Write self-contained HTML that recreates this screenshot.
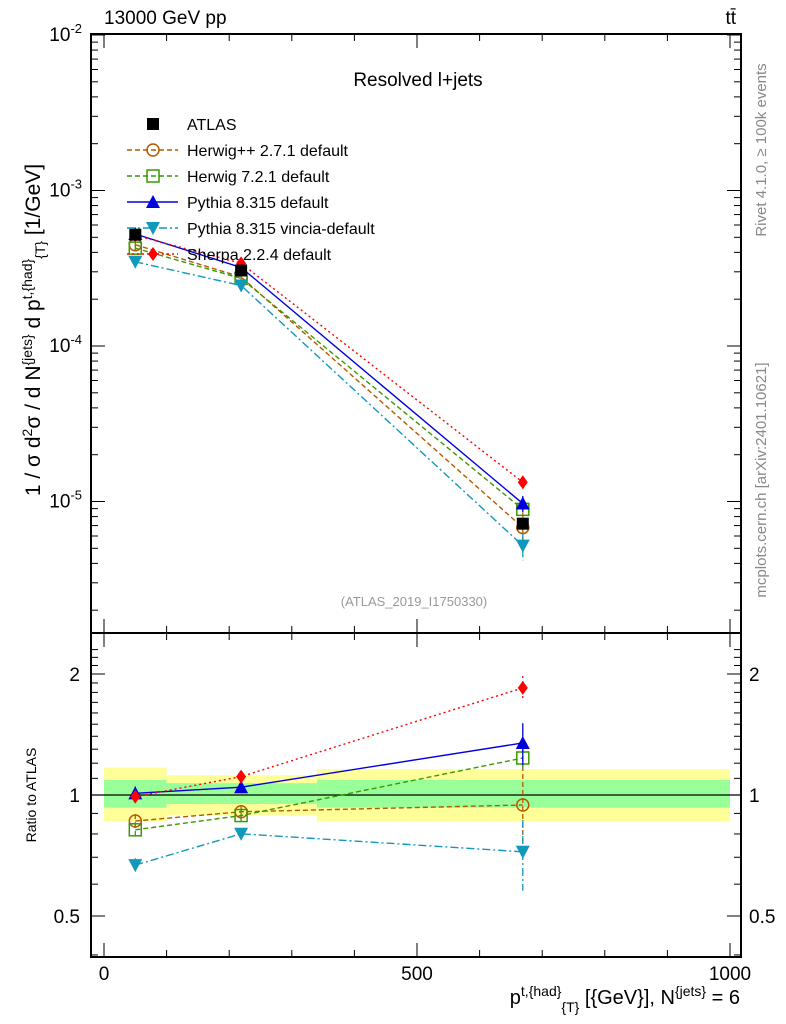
<!DOCTYPE html>
<html><head><meta charset="utf-8"><style>
body{margin:0;background:#fff}
svg{display:block;font-family:"Liberation Sans",sans-serif}
</style></head><body>
<svg id="c" width="786" height="1024" viewBox="0 0 786 1024" xmlns="http://www.w3.org/2000/svg">
<g id="bands"></g>
<g id="grid"></g>
<g id="series"></g>
<text x="104" y="24" font-size="19">13000 GeV pp</text>
<text x="736" y="24" font-size="19" text-anchor="end">tt̄</text>
<text x="418" y="86" font-size="19" text-anchor="middle">Resolved l+jets</text>
<text x="414" y="606" font-size="13" fill="#999" text-anchor="middle">(ATLAS_2019_I1750330)</text>
<text transform="translate(766,150) rotate(-90)" font-size="15" fill="#888" text-anchor="middle">Rivet 4.1.0, ≥ 100k events</text>
<text transform="translate(766,480) rotate(-90)" font-size="15" fill="#888" text-anchor="middle">mcplots.cern.ch [arXiv:2401.10621]</text>
<text transform="translate(40,330) rotate(-90)" font-size="21" text-anchor="middle">1 / σ d<tspan dy="-8" font-size="14">2</tspan><tspan dy="8">σ / d N</tspan><tspan dy="-8" font-size="14">{jets}</tspan><tspan dy="8"> d p</tspan><tspan dy="-8" font-size="14">t,{had}</tspan><tspan dy="13" font-size="14">{T}</tspan><tspan dy="-5"> [1/GeV]</tspan></text>
<text transform="translate(36,795) rotate(-90)" font-size="14" text-anchor="middle">Ratio to ATLAS</text>
<text x="740" y="1004" font-size="20" text-anchor="end">p<tspan dy="-8" font-size="14">t,{had}</tspan><tspan dy="16" font-size="14">{T}</tspan><tspan dy="-8"> [{GeV}], N</tspan><tspan dy="-8" font-size="14">{jets}</tspan><tspan dy="8"> = 6</tspan></text>
<g id="legend"></g>
</svg>
<script>
const xCenters=[50,219,669];
const atlas=[5.2e-4,3.06e-4,7.2e-6];
const atlasErr=[0.03,0.04,0.07];
const herwigpp=[4.48e-4,2.78e-4,6.8e-6];
const herwig7=[4.26e-4,2.72e-4,8.9e-6];
const pythia=[5.25e-4,3.2e-4,9.7e-6];
const vincia=[3.48e-4,2.45e-4,5.2e-6];
const sherpa=[5.15e-4,3.4e-4,1.33e-5];
const herwigppErr=[0.04,0.03,0.25];
const herwig7Err=[0.04,0.03,0.06];
const pythiaErr=[0.04,0.02,0.12];
const vinciaErr=[0.04,0.03,0.2];
const sherpaErr=[0.02,0.02,0.07];
const binEdges=[0,100,340,1000];
const band1Lo=[0.86,0.89,0.86];const band1Hi=[1.17,1.12,1.16];
const band2Lo=[0.93,0.95,0.93];const band2Hi=[1.09,1.07,1.09];
const xTicks=[0,500,1000];
const yTicks=[-2,-3,-4,-5];
const rTicks=[0.5,1,2];
const NS='http://www.w3.org/2000/svg';
const L=91,R=741,T=34,M=633,B=957;
const X=v=>104+v*0.626;
const Y=v=>35+(-2-Math.log10(v))*155.5;
const RY=r=>795-Math.log2(r)*121;
function mk(p,tag,a){const e=document.createElementNS(NS,tag);for(const k in a)e.setAttribute(k,a[k]);p.appendChild(e);return e;}
const bands=document.getElementById('bands'),grid=document.getElementById('grid'),ser=document.getElementById('series'),leg=document.getElementById('legend');
for(let i=0;i<3;i++){
 let r=mk(bands,'rect',{x:X(binEdges[i]),y:RY(band1Hi[i]),width:X(binEdges[i+1])-X(binEdges[i]),height:RY(band1Lo[i])-RY(band1Hi[i]),fill:'#ffff99'});
 
 r=mk(bands,'rect',{x:X(binEdges[i]),y:RY(band2Hi[i]),width:X(binEdges[i+1])-X(binEdges[i]),height:RY(band2Lo[i])-RY(band2Hi[i]),fill:'#99ff99'});
 
}
let fr=mk(grid,'rect',{x:L,y:T,width:R-L,height:B-T,fill:'none',stroke:'#000','stroke-width':2});

mk(grid,'line',{x1:L,x2:R,y1:M,y2:M,stroke:'#000','stroke-width':2});
mk(grid,'line',{x1:L,x2:R,y1:RY(1),y2:RY(1),stroke:'#000','stroke-width':1.3});
for(let v=0;v<=1000;v+=100){const maj=v%500==0;
 for(const [y0,d] of [[T,1],[M,-1],[M,1],[B,-1]]){mk(grid,'line',{x1:X(v),x2:X(v),y1:y0,y2:y0+d*(maj?14:7),stroke:'#000','stroke-width':1});}}
xTicks.forEach(v=>{const t=mk(grid,'text',{x:X(v),y:980,'font-size':19,'text-anchor':'middle'});t.textContent=v;
 });
for(let d=-6;d<=-2;d++){for(let m=1;m<10;m++){const v=m*Math.pow(10,d);const y=Y(v);if(y<T||y>M)continue;const len=m==1?14:7;
 mk(grid,'line',{x1:L,x2:L+len,y1:y,y2:y,stroke:'#000'});mk(grid,'line',{x1:R,x2:R-len,y1:y,y2:y,stroke:'#000'});}}
yTicks.forEach(e=>{const t=mk(grid,'text',{x:82,y:Y(Math.pow(10,e))+6,'font-size':19,'text-anchor':'end'});
 t.innerHTML='10<tspan dy="-8" font-size="13">'+e+'</tspan>';
 });
for(let r=0.4;r<=2.4;r+=0.1){const y=RY(r);if(y<M||y>B)continue;const maj=[0.5,1,2].some(q=>Math.abs(q-r)<1e-6);const len=maj?14:7;
 mk(grid,'line',{x1:L,x2:L+len,y1:y,y2:y,stroke:'#000'});mk(grid,'line',{x1:R,x2:R-len,y1:y,y2:y,stroke:'#000'});}
rTicks.forEach(r=>{for(const [x,a] of [[80,'end'],[749,'start']]){const t=mk(grid,'text',{x:x,y:RY(r)+7,'font-size':19,'text-anchor':a});t.textContent=r;
 }});
function marker(p,type,x,y,col){
 if(type=='sq')return mk(p,'rect',{x:x-6,y:y-6,width:12,height:12,fill:'#000'});
 if(type=='circ')return mk(p,'circle',{cx:x,cy:y,r:6,fill:'none',stroke:col,'stroke-width':1.5});
 if(type=='osq')return mk(p,'rect',{x:x-6,y:y-6,width:12,height:12,fill:'none',stroke:col,'stroke-width':1.5});
 if(type=='tri')return mk(p,'polygon',{points:`${x},${y-7} ${x-7},${y+6} ${x+7},${y+6}`,fill:col});
 if(type=='itri')return mk(p,'polygon',{points:`${x},${y+7} ${x-7},${y-6} ${x+7},${y-6}`,fill:col});
 if(type=='dia')return mk(p,'polygon',{points:`${x},${y-7} ${x-5},${y} ${x},${y+7} ${x+5},${y}`,fill:col});
}
const mcs=[
 {name:'Herwig++ 2.7.1 default',vals:herwigpp,err:herwigppErr,col:'#b35a00',dash:'5,3',m:'circ',id:'herwigpp'},
 {name:'Herwig 7.2.1 default',vals:herwig7,err:herwig7Err,col:'#3a9a00',dash:'5,3',m:'osq',id:'herwig7'},
 {name:'Pythia 8.315 default',vals:pythia,err:pythiaErr,col:'#0000dd',dash:'',m:'tri',id:'pythia'},
 {name:'Pythia 8.315 vincia-default',vals:vincia,err:vinciaErr,col:'#1199bb',dash:'8,3,2,3',m:'itri',id:'vincia'},
 {name:'Sherpa 2.2.4 default',vals:sherpa,err:sherpaErr,col:'#ff0000',dash:'2,3',m:'dia',id:'sherpa'}];
mcs.forEach(s=>{
 const g=mk(ser,'g',{});
 const pm=s.vals.map((v,i)=>X(xCenters[i])+','+Y(v)).join(' ');
 mk(g,'polyline',{points:pm,fill:'none',stroke:s.col,'stroke-width':1.4,'stroke-dasharray':s.dash});
 const pr=s.vals.map((v,i)=>X(xCenters[i])+','+RY(v/atlas[i])).join(' ');
 mk(g,'polyline',{points:pr,fill:'none',stroke:s.col,'stroke-width':1.4,'stroke-dasharray':s.dash});
 s.vals.forEach((v,i)=>{const x=X(xCenters[i]);const r=v/atlas[i];const e=s.err[i];
  mk(g,'line',{x1:x,x2:x,y1:Y(v*(1+e)),y2:Y(v*(1-e)),stroke:s.col,'stroke-width':1.3,'stroke-dasharray':s.dash});
  mk(g,'line',{x1:x,x2:x,y1:RY(r*(1+e)),y2:RY(r*(1-e)),stroke:s.col,'stroke-width':1.3,'stroke-dasharray':s.dash});
  let p=marker(g,s.m,x,Y(v),s.col);
  p=marker(g,s.m,x,RY(r),s.col);});
});
const ga=mk(ser,'g',{});
atlas.forEach((v,i)=>{const x=X(xCenters[i]);
 mk(ga,'line',{x1:x,x2:x,y1:Y(v*(1+atlasErr[i])),y2:Y(v*(1-atlasErr[i])),stroke:'#000'});
 const p=marker(ga,'sq',x,Y(v),'#000');});
const ents=[{name:'ATLAS',m:'sq',col:'#000',dash:null}].concat(mcs);
ents.forEach((s,i)=>{const y=124+i*26;const g=mk(leg,'g',{});
 
 if(s.dash!==null)mk(g,'line',{x1:127,x2:178,y1:y,y2:y,stroke:s.col,'stroke-width':1.4,'stroke-dasharray':s.dash});
 marker(g,s.m,153,y,s.col);
 const t=mk(g,'text',{x:187,y:y+6,'font-size':16});t.textContent=s.name;});
</script>
</body></html>
